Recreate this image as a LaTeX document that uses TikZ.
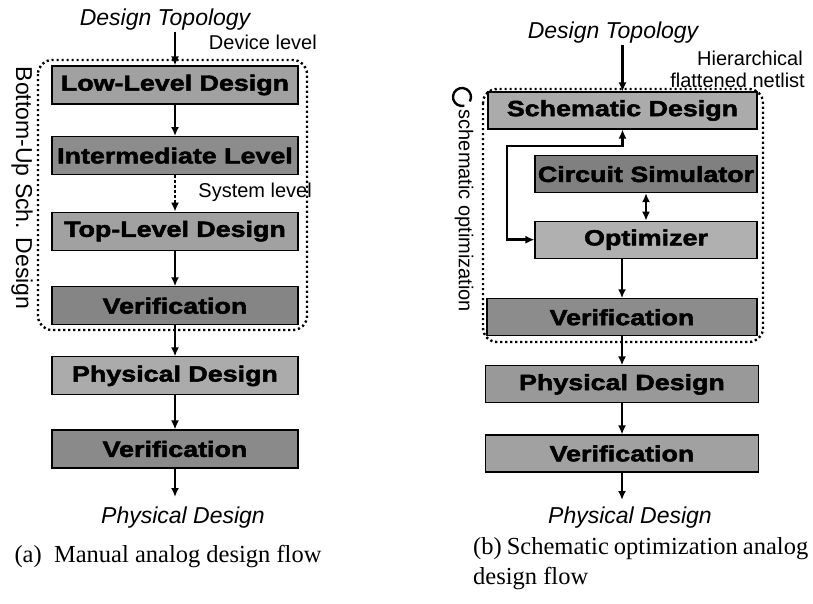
\documentclass[tikz,border=0pt]{standalone}
\usepackage{fontspec}
\setmainfont{Liberation Sans}
\newfontfamily\capfont{Liberation Serif}
\newfontfamily\boxfont{Liberation Sans}[FakeStretch=1.22,FakeBold=2.2]
\usetikzlibrary{arrows.meta,positioning}

\begin{document}
\begin{tikzpicture}[x=1pt,y=-1pt,>={Latex[length=9pt,width=8pt]}]
  \tikzset{box/.style={draw,line width=1.1pt,inner sep=0pt,minimum height=38pt,font=\boxfont\bfseries\fontsize{22}{24}\selectfont},
    boxr/.style={box,minimum height=37pt},
    lbl/.style={inner sep=0pt,font=\fontsize{20}{22}\selectfont},
    io/.style={inner sep=1pt,font=\itshape\fontsize{23}{25}\selectfont},
    grp/.style={line width=2.4pt,dash pattern=on 2.2pt off 2.8pt,rounded corners=14pt},
    flow/.style={->,line width=2.6pt},
    captext/.style={inner sep=0pt,font=\capfont\fontsize{24.5}{30}\selectfont}}
  \useasboundingbox (0,0) rectangle (813,603);
  % (a) manual flow
  \node[io] (topoA) at (165,20) {Design Topology};
  \node[box,minimum width=246pt,fill=black!37] (low) at (175,85) {Low-Level Design};
  \node[box,minimum width=246pt,fill=black!45,below=31.5pt of low] (inter) {Intermediate Level};
  \node[box,minimum width=246pt,fill=black!37,below=36.5pt of inter] (top) {Top-Level Design};
  \node[box,minimum width=246pt,fill=black!48,below=35.5pt of top] (verifA) {Verification};
  \node[box,minimum width=246pt,fill=black!33,below=31pt of verifA] (physA) {Physical Design};
  \node[box,minimum width=246pt,fill=black!46,below=34pt of physA] (verifB) {Verification};
  \coordinate (outA) at (175,497);
  \node[io] (pdA) at (183,518) {Physical Design};
  \draw[grp] (38,60) rectangle (307,330);
  \node[lbl,anchor=east] (devlvl) at (317,42) {Device level};
  \node[lbl,anchor=east] (syslvl) at (312,192) {System level};
  \node[lbl,rotate=-90,font=\fontsize{23}{25}\selectfont] (bottomup) at (22,188) {Bottom-Up Sch. Design};
  \draw[flow] (topoA.south -| low.north) -- (low.north);
  \draw[flow,dash pattern=on 2.5pt off 2.5pt] (inter) -- (top);
  \foreach \a/\b in {low/inter,top/verifA,verifA/physA,physA/verifB}{\draw[flow] (\a) -- (\b);}
  \draw[flow] (verifB.south) -- (outA);
  \node[captext] (capA) at (168,557) {(a)~~Manual analog design flow};
  % (b) schematic optimization flow
  \node[io] (topoB) at (613,33) {Design Topology};
  \node[boxr,minimum width=269pt,fill=black!33] (schem) at (622.5,110.5) {Schematic Design};
  \node[boxr,minimum width=222pt,fill=black!50,below=25.5pt of schem,xshift=23.5pt] (circ) {Circuit Simulator};
  \node[boxr,minimum width=222pt,fill=black!31,below=27.5pt of circ] (opt) {Optimizer};
  \node[boxr,minimum width=270pt,fill=black!45,below=39.5pt of opt,xshift=-24pt] (verifC) {Verification};
  \node[boxr,minimum width=273pt,fill=black!40,below=29pt of verifC] (physB) {Physical Design};
  \node[boxr,minimum width=273pt,fill=black!37,below=31pt of physB] (verifD) {Verification};
  \coordinate (outB) at (622,500);
  \coordinate (loopbend) at (507,146);
  \node[io] (pdB) at (630,518) {Physical Design};
  \draw[grp] (483,89) rectangle (763,342);
  \node[lbl,anchor=east] (hier) at (803,58) {Hierarchical};
  \node[lbl,anchor=east] (flat) at (805,80) {flattened netlist};
  \node[lbl,rotate=-90] (schopt) at (464,211) {schematic optimization};
  \draw[line width=2.4pt] (462,97) ++(-30:9pt) arc[start angle=-30,end angle=285,radius=9pt];
  \draw[flow] (topoB.south -| schem.north) -- (schem.north);
  \draw[<->,line width=2.6pt] (opt.west) -| (loopbend) -| (schem.south);
  \draw[<->,line width=2.6pt] (circ) -- (opt);
  \draw[flow] (opt.south -| verifC.north) -- (verifC.north);
  \foreach \a/\b in {verifC/physB,physB/verifD}{\draw[flow] (\a) -- (\b);}
  \draw[flow] (verifD.south) -- (verifD.south |- outB);
  \node[captext,anchor=north west,text width=335pt,align=justify] (capB) at (473,537) {(b) Schematic optimization analog design flow};
\end{tikzpicture}
\end{document}
